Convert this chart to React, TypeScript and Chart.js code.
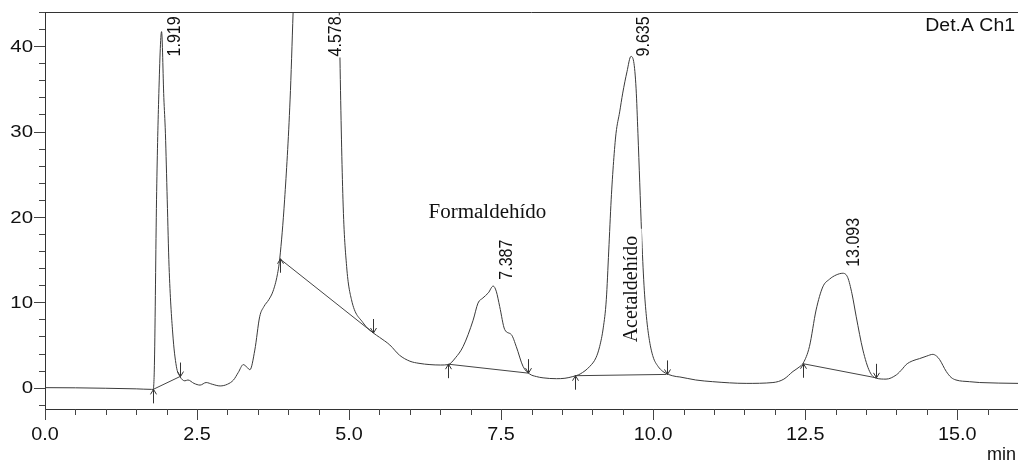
import React, { useEffect, useRef } from 'react';
import { Chart, registerables } from 'chart.js';

Chart.register(...registerables);

// Chromatogram signal (time in min, signal in mAU)
const times = [
  0, 0.5, 1.0, 1.5, 1.75, 1.78, 1.80, 1.834, 1.869, 1.917, 1.954, 1.98, 2.01, 2.04, 2.10, 2.16, 2.22,
  2.30, 2.35, 2.45, 2.55, 2.65, 2.75, 2.88, 3.0, 3.10, 3.18, 3.26, 3.32, 3.37, 3.45, 3.53, 3.60, 3.68,
  3.75, 3.82, 3.86, 3.94, 4.03, 4.08, 4.2, 4.4, 4.578, 4.72, 4.80, 4.85, 4.90, 4.96, 5.04, 5.23, 5.40,
  5.50, 5.67, 5.83, 6.0, 6.15, 6.33, 6.5, 6.63, 6.75, 6.874, 7.04, 7.12, 7.20, 7.29, 7.37, 7.42, 7.477,
  7.56, 7.67, 7.75, 7.86, 7.97, 8.08, 8.19, 8.41, 8.55, 8.68, 8.80, 8.96, 9.06, 9.12, 9.18, 9.23, 9.27,
  9.31, 9.35, 9.39, 9.45, 9.50, 9.57, 9.635, 9.68, 9.72, 9.75, 9.78, 9.81, 9.85, 9.89, 9.94, 10.0,
  10.08, 10.16, 10.25, 10.38, 10.44, 10.7, 10.98, 11.53, 11.97, 12.15, 12.30, 12.40, 12.47, 12.57,
  12.68, 12.79, 12.90, 13.01, 13.12, 13.20, 13.27, 13.34, 13.45, 13.56, 13.67, 13.83, 14.0, 14.10,
  14.16, 14.27, 14.38, 14.50, 14.60, 14.66, 14.71, 14.82, 14.90, 14.98, 15.2, 15.37, 16.0,
];
const signal = [
  0, -0.02, -0.07, -0.14, -0.2, -0.2, 3.0, 22, 33.7, 41.7, 34, 29.8, 22, 14.2, 6.4, 2.5, 1.3,
  0.8, 0.9, 0.5, 0.3, 0.6, 0.4, 0.2, 0.4, 0.9, 1.8, 2.7, 2.4, 2.1, 4.4, 8.3, 9.5, 10.3,
  11.3, 13.2, 15.1, 22, 33.7, 44, 70, 105, 118, 100, 65, 38.7, 22, 14.2, 10.3, 7.6, 6.4,
  5.9, 5.0, 3.8, 3.1, 2.85, 2.7, 2.65, 2.7, 3.5, 4.8, 7.9, 9.9, 10.5, 11.1, 11.9, 11.3, 9.5,
  6.8, 6.2, 4.8, 2.5, 1.6, 1.3, 1.15, 1.05, 1.1, 1.3, 1.6, 2.5, 3.5, 4.8, 7, 10.3, 16,
  22, 26.5, 29.8, 32.3, 34.5, 37, 38.8, 38.2, 35, 29.8, 24, 18.1, 12, 8.3, 5.5, 3.6,
  2.5, 1.9, 1.55, 1.3, 1.25, 0.9, 0.7, 0.5, 0.6, 1.0, 1.9, 2.4, 2.9, 4.8,
  9.1, 11.8, 12.7, 13.2, 13.4, 12.9, 11, 8.3, 4.4, 1.9, 1.1, 1.0, 1.5, 2.2,
  2.7, 3.15, 3.4, 3.7, 3.9, 3.7, 3.3, 1.9, 1.2, 0.9, 0.7, 0.6, 0.5,
];

// Integration baselines (start / end points)
const baselineStartTimes = [1.78, 3.86, 6.63, 8.71, 12.47];
const baselineStartValues = [-0.2, 15.1, 2.75, 1.4, 2.8];
const baselineEndTimes = [2.22, 5.40, 7.95, 10.22, 13.67];
const baselineEndValues = [1.3, 6.4, 1.7, 1.55, 1.15];

// Peak retention-time labels
const peakTimes = [1.919, 4.578, 7.387, 9.635, 13.093];
const peakLabels = ['1.919', '4.578', '7.387', '9.635', '13.093'];
const peakHeights = [41.7, 118, 11.9, 38.8, 13.4];

// Compound names
const compoundNames = ['Formaldehído', 'Acetaldehído'];
const compoundTimes = [6.307, 9.73];
const compoundValues = [19.83, 11.55];

// Axes
const xMajorTicks = [0, 2.5, 5, 7.5, 10, 12.5, 15];
const yMajorTicks = [0, 10, 20, 30, 40];
const X_MIN = 0, X_MAX = 16, Y_MIN = -2.5, Y_MAX = 44;
const LABEL_MAX_VALUE = 38.8;

const TEXT = '#111';
const SANS = '"Liberation Sans", Arial, sans-serif';
const SERIF = '"Liberation Serif", "Times New Roman", serif';

function drawText(
  ctx: CanvasRenderingContext2D, text: string, x: number, y: number, font: string,
  align: CanvasTextAlign, baseline: CanvasTextBaseline, sx: number, rotated: boolean,
  bg?: { x0: number; x1: number; y0: number; y1: number },
) {
  ctx.save();
  ctx.translate(x, y);
  ctx.scale(sx, 1);
  if (rotated) ctx.rotate(-Math.PI / 2);
  ctx.font = font;
  ctx.textAlign = align;
  ctx.textBaseline = baseline;
  if (bg) {
    const w = ctx.measureText(text).width;
    let left = 0;
    if (align === 'center') left = -w / 2;
    else if (align === 'right' || align === 'end') left = -w;
    ctx.fillStyle = '#fff';
    ctx.fillRect(left + bg.x0, bg.y0, w - bg.x0 + bg.x1, bg.y1 - bg.y0);
  }
  ctx.fillStyle = TEXT;
  ctx.fillText(text, 0, 0);
  ctx.restore();
}

const annotPlugin = {
  id: 'annot',
  afterDatasetsDraw(chart: any) {
    const ctx: CanvasRenderingContext2D = chart.ctx;
    const xs = chart.scales.x, ys = chart.scales.y;
    ctx.save();
    ctx.strokeStyle = '#333';
    ctx.lineWidth = 1;
    // start markers (up arrows)
    baselineStartTimes.forEach((t, i) => {
      const px = Math.round(xs.getPixelForValue(t)) + 0.5;
      const py = ys.getPixelForValue(baselineStartValues[i]);
      ctx.beginPath();
      ctx.moveTo(px, py); ctx.lineTo(px, py + 14);
      ctx.moveTo(px - 3, py + 5); ctx.lineTo(px, py); ctx.lineTo(px + 3, py + 5);
      ctx.stroke();
    });
    // end markers (down arrows)
    baselineEndTimes.forEach((t, i) => {
      const px = Math.round(xs.getPixelForValue(t)) + 0.5;
      const py = ys.getPixelForValue(baselineEndValues[i]);
      ctx.beginPath();
      ctx.moveTo(px, py); ctx.lineTo(px, py - 14);
      ctx.moveTo(px - 3, py - 5); ctx.lineTo(px, py); ctx.lineTo(px + 3, py - 5);
      ctx.stroke();
    });
    ctx.restore();

    // peak labels (rotated, white background)
    peakTimes.forEach((t, i) => {
      const px = xs.getPixelForValue(t) + 13;
      const py = ys.getPixelForValue(Math.min(peakHeights[i] + 0.75, LABEL_MAX_VALUE));
      drawText(ctx, peakLabels[i], px, py, `16px ${SANS}`, 'left', 'middle', 1.12, true,
        { x0: -1, x1: 1, y0: -6, y1: 6 });
    });

    // compound names
    drawText(ctx, compoundNames[0], xs.getPixelForValue(compoundTimes[0]), ys.getPixelForValue(compoundValues[0]),
      `20px ${SERIF}`, 'left', 'alphabetic', 1.05, false);
    drawText(ctx, compoundNames[1], xs.getPixelForValue(compoundTimes[1]), ys.getPixelForValue(compoundValues[1]),
      `20px ${SERIF}`, 'center', 'alphabetic', 1.0, true,
      { x0: -10, x1: 7, y0: -17, y1: 5 });
  },
  afterDraw(chart: any) {
    const ctx: CanvasRenderingContext2D = chart.ctx;
    const xs = chart.scales.x, ys = chart.scales.y;
    const area = chart.chartArea;
    ctx.save();
    // top frame line
    ctx.strokeStyle = '#333';
    ctx.lineWidth = 1;
    ctx.beginPath();
    ctx.moveTo(area.left, Math.round(area.top) + 0.5);
    ctx.lineTo(area.right, Math.round(area.top) + 0.5);
    ctx.stroke();
    // x ticks
    ctx.strokeStyle = '#444';
    for (let k = 0; k <= 31; k++) {
      const v = k * 0.5;
      const major = xMajorTicks.includes(v);
      const px = Math.round(xs.getPixelForValue(v)) + 0.5;
      ctx.beginPath();
      ctx.moveTo(px, area.bottom);
      ctx.lineTo(px, area.bottom + (major ? 11 : 6));
      ctx.stroke();
    }
    // y ticks
    for (let v = -2; v <= 44; v += 2) {
      const major = yMajorTicks.includes(v);
      const py = Math.round(ys.getPixelForValue(v)) + 0.5;
      ctx.beginPath();
      ctx.moveTo(area.left, py);
      ctx.lineTo(area.left - (major ? 11 : 6), py);
      ctx.stroke();
    }
    ctx.restore();
    // tick labels
    xMajorTicks.forEach((v) => {
      drawText(ctx, v.toFixed(1), xs.getPixelForValue(v), area.bottom + 31, `18px ${SANS}`,
        'center', 'alphabetic', 1.1, false);
    });
    yMajorTicks.forEach((v) => {
      drawText(ctx, String(v), area.left - 12, ys.getPixelForValue(v) + 1, `17px ${SANS}`,
        'right', 'middle', 1.2, false);
    });
    drawText(ctx, 'min', area.right - 2, area.bottom + 51, `18px ${SANS}`, 'right', 'alphabetic', 1.0, false);
    drawText(ctx, 'Det.A Ch1', area.right - 3, area.top + 18.5, `18px ${SANS}`, 'right', 'alphabetic', 1.08, false);
  },
};

export default function App() {
  const ref = useRef<HTMLCanvasElement | null>(null);
  useEffect(() => {
    if (!ref.current) return;
    const curve = times.map((t, i) => ({ x: t, y: signal[i] }));
    const baselineSets = baselineStartTimes.map((t, i) => ({
      data: [
        { x: t, y: baselineStartValues[i] },
        { x: baselineEndTimes[i], y: baselineEndValues[i] },
      ],
      borderColor: '#444',
      borderWidth: 1,
      pointRadius: 0,
      tension: 0,
    }));
    const chart = new Chart(ref.current, {
      type: 'line',
      data: {
        datasets: [
          {
            data: curve,
            borderColor: '#3a3a3a',
            borderWidth: 1,
            pointRadius: 0,
            cubicInterpolationMode: 'monotone',
          } as any,
          ...baselineSets,
        ],
      },
      options: {
        responsive: false,
        devicePixelRatio: 1,
        animation: false,
        events: [],
        layout: { padding: { top: 12, left: 0, right: 0, bottom: 0 } },
        plugins: { legend: { display: false }, tooltip: { enabled: false } },
        scales: {
          x: {
            type: 'linear', min: X_MIN, max: X_MAX,
            ticks: { display: false },
            grid: { display: false },
            border: { display: true, color: '#333', width: 1 },
            afterFit: (s: any) => { s.height = 54; },
          },
          y: {
            type: 'linear', min: Y_MIN, max: Y_MAX,
            ticks: { display: false },
            grid: { display: false },
            border: { display: true, color: '#333', width: 1 },
            afterFit: (s: any) => { s.width = 45; },
          },
        },
      } as any,
      plugins: [annotPlugin],
    });
    return () => chart.destroy();
  }, []);
  return (
    <div style={{ position: 'absolute', left: 0, top: 0, width: 1018, height: 463, background: '#fff' }}>
      <canvas ref={ref} width={1018} height={463} style={{ width: 1018, height: 463, display: 'block' }} />
    </div>
  );
}
